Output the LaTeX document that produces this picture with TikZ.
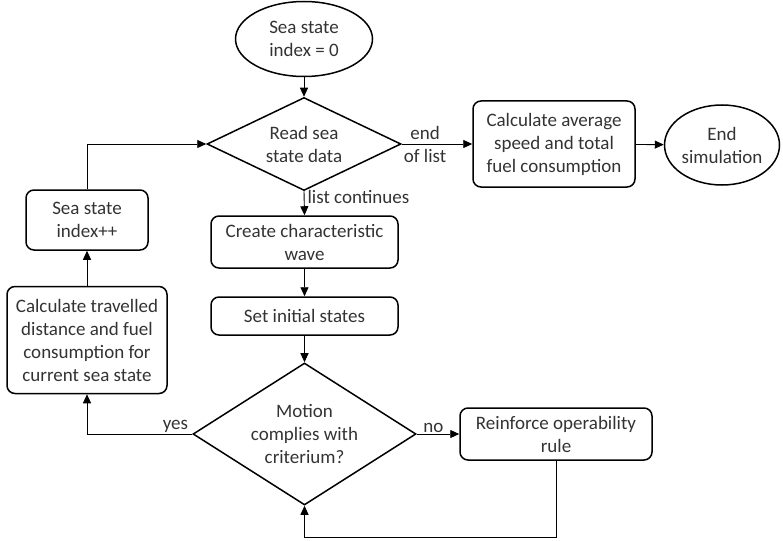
\documentclass[tikz,border=0pt]{standalone}
\usepackage{fontspec}
\setmainfont{Carlito}
\usetikzlibrary{shapes.geometric,arrows.meta}
\begin{document}
\begin{tikzpicture}[x=1pt,y=-1pt,
  every node/.style={font=\fontsize{19}{23}\selectfont, text=black!80},
  term/.style={ellipse, draw, line width=1.5pt, inner sep=0pt, align=center},
  proc/.style={rectangle, rounded corners=8pt, draw, line width=1.5pt, inner sep=0pt, align=center},
  decide/.style={diamond, draw, line width=1.5pt, inner sep=0pt, align=center},
  flow/.style={line width=0.9pt, -{Triangle[length=9pt,width=8pt]}},
  lbl/.style={inner sep=1pt}]
\useasboundingbox (0,0) rectangle (783,540);

% nodes
\node[term, minimum width=137pt, minimum height=75pt] (start) at (304,39) {Sea state\\index = 0};
\node[decide, aspect=2.09, minimum width=194pt, minimum height=93pt] (read) at (304,144) {Read sea\\state data};
\node[proc, minimum width=162pt, minimum height=86pt] (avg) at (554,144) {Calculate average\\speed and total\\fuel consumption};
\node[term, minimum width=115pt, minimum height=80pt] (endsim) at (722,145) {End\\simulation};
\node[proc, minimum width=187pt, minimum height=52pt] (wave) at (304.5,242) {Create characteristic\\wave};
\node[proc, minimum width=187pt, minimum height=38pt] (init) at (304.5,316) {Set initial states};
\node[decide, aspect=1.57, minimum width=223pt, minimum height=142pt] (motion) at (304.5,434) {Motion\\complies with\\criterium?};
\node[proc, minimum width=192pt, minimum height=52pt] (reinf) at (556,434) {Reinforce operability\\rule};
\node[proc, minimum width=160pt, minimum height=107pt] (calc) at (87,340) {Calculate travelled\\distance and fuel\\consumption for\\current sea state};
\node[proc, minimum width=122pt, minimum height=60pt] (idx) at (87,220) {Sea state\\index++};

% connectors
\draw[flow] (start) -- (read);
\draw[flow] (read.east) -- node[lbl, pos=0.33, align=center] {end\\of list} (avg.west);
\draw[flow] (avg) -- (endsim);
\draw[flow] (read.south) -- node[lbl, pos=0.25, anchor=west, xshift=2pt] {list continues} (wave.north);
\draw[flow] (wave) -- (init);
\draw[flow] (init) -- (motion);
\draw[flow] (motion.east) -- node[lbl, above, pos=0.39] {no} (reinf.west);
\coordinate (loopturn) at ([yshift=-77pt]reinf.south);
\draw[flow] (reinf.south) -- (loopturn) -| (motion.south);
\draw[flow] (motion.west) -| node[lbl, above, pos=0.08] {yes} (calc.south);
\draw[flow] (calc) -- (idx);
\draw[flow] (idx.north) |- (read.west);
\end{tikzpicture}
\end{document}
